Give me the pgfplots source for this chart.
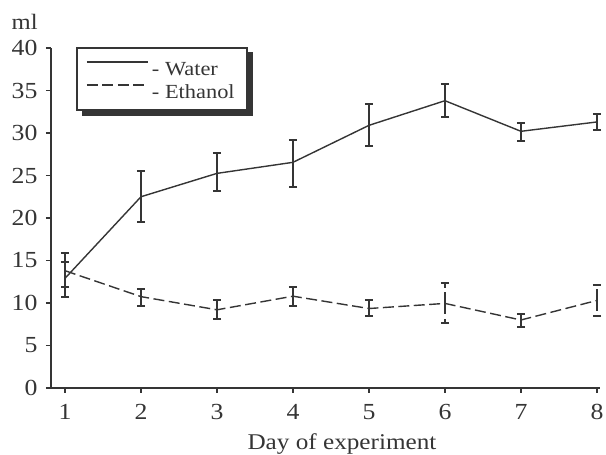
\documentclass[border=0pt]{standalone}
\usepackage{pgfplots}
\pgfplotsset{compat=1.18}
\usepackage{pgfplotstable}
\usepackage{fontspec}
\setmainfont{Liberation Serif}[FakeStretch=1.12]
\definecolor{ink}{HTML}{353535}

\pgfplotstableread{
x y hi lo
1 12.9 15.85 10.75
2 22.5 25.5 19.5
3 25.25 27.6 23.2
4 26.55 29.2 23.7
5 30.9 33.4 28.5
6 33.8 35.8 31.85
7 30.2 31.2 29.0
8 31.3 32.2 30.4
}\water
\pgfplotstableread{
x y hi lo
1 13.8 14.8 11.85
2 10.75 11.65 9.7
3 9.2 10.3 8.1
4 10.8 11.9 9.7
5 9.35 10.4 8.45
6 9.95 12.4 7.6
7 8.0 8.7 7.2
8 10.3 12.1 8.5
}\ethanol

\begin{document}
\begin{tikzpicture}
\useasboundingbox (-51pt,-67pt) rectangle (555pt,388pt);
\begin{axis}[
  at={(0pt,0pt)}, anchor=origin,
  scale only axis, width=549pt, height=340pt,
  xmin=0.816, xmax=8.04, ymin=0, ymax=40,
  axis lines=left, axis line style={-, ink, line width=1.3pt},
  tick align=outside, major tick length=5pt,
  tick style={ink, line width=1.3pt},
  xtick={1,...,8}, ytick={0,5,...,40},
  ticklabel style={font=\fontsize{23}{25}\selectfont, text=ink},
  /pgf/number format/assume math mode=true,
  yticklabel style={xshift=-5pt},
  xticklabel style={yshift=-8pt},
  xlabel={Day of experiment},
  xlabel style={font=\fontsize{22.5}{25}\selectfont, text=ink, at={(axis description cs:0.53,0)}, anchor=base, yshift=-62pt},
  clip=false,
  legend style={at={(rel axis cs:0.0638,0.9012)}, anchor=west,
    draw=none, fill=none,
    font=\fontsize{20}{22}\selectfont, text=ink,
    inner sep=0pt, row sep=5pt, column sep=0pt,
    nodes={inner sep=0pt, text height=14pt, text depth=4pt},
    cells={anchor=west}},
  legend image code/.code={\draw[#1] (0pt,8pt) -- (61pt,8pt);},
  error bars/error bar style={ink, line width=1.3pt},
  error bars/error mark options={ink, line width=2pt, mark size=4.2pt, rotate=90},
]
\fill[ink] (rel axis cs:0.05647,0.9882) rectangle (rel axis cs:0.3679,0.8);
\filldraw[fill=white, draw=ink, line width=1.3pt] (rel axis cs:0.04736,1) rectangle (rel axis cs:0.357,0.8176);
\addplot[ink, line width=1.4pt, mark=none,
  error bars/.cd, y dir=both, y explicit]
  table[x=x, y=y, y error plus expr=\thisrow{hi}-\thisrow{y}, y error minus expr=\thisrow{y}-\thisrow{lo}] {\water};
\addlegendentry{\,- Water}
\addplot[ink, line width=1.4pt, mark=none, dash pattern=on 11pt off 4.5pt,
  error bars/.cd, y dir=both, y explicit]
  table[x=x, y=y, y error plus expr=\thisrow{hi}-\thisrow{y}, y error minus expr=\thisrow{y}-\thisrow{lo}] {\ethanol};
\addlegendentry{\,- Ethanol}
\node[anchor=base, font=\fontsize{22}{24}\selectfont, text=ink] at (rel axis cs:-0.048,1.053) {ml};
\end{axis}
\end{tikzpicture}
\end{document}
